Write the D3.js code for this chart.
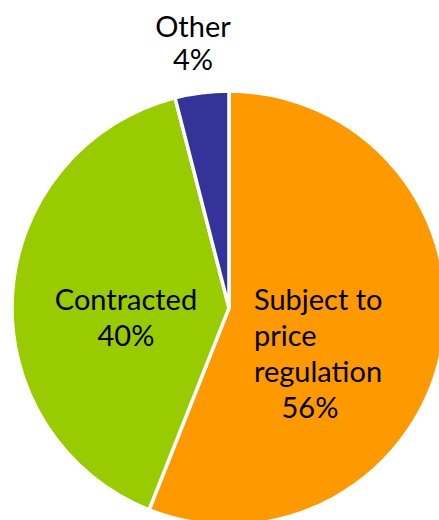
<!DOCTYPE html>
<html>
<head>
<meta charset="utf-8">
<script src="https://cdn.jsdelivr.net/npm/d3@7"></script>
<style>
  html, body { margin: 0; padding: 0; background: #fff; }
  svg { display: block; }
</style>
</head>
<body>
<svg id="chart" width="439" height="520"></svg>
<script>
// Share of output by pricing arrangement
const categories = ["Subject to price regulation", "Contracted", "Other"];
const shares = [56, 40, 4];
const colors = ["#FF9900", "#99CC00", "#333399"];
// Label lines for each slice (category text followed by its share)
const labelLines = [
  ["Subject to", "price", "regulation", "56%"],
  ["Contracted", "40%"],
  ["Other", "4%"]
];

const width = 439, height = 520;
const cx = 229, cy = 308, radius = 217;

const svg = d3.select("#chart");
const g = svg.append("g").attr("transform", `translate(${cx},${cy})`);

const pie = d3.pie().sort(null).value(d => d.value).startAngle(0).endAngle(2 * Math.PI);
const arc = d3.arc().innerRadius(0).outerRadius(radius);

const data = categories.map((c, i) => ({ name: c, value: shares[i], color: colors[i] }));
const arcs = pie(data);

g.selectAll("path.slice")
  .data(arcs)
  .join("path")
  .attr("class", "slice")
  .attr("d", arc)
  .attr("fill", d => d.data.color)
  .attr("stroke", "#fff")
  .attr("stroke-width", 3.5)
  .attr("stroke-linejoin", "miter");

const font = "Lato, 'Open Sans', sans-serif";
const fontSize = 29;
const lineH = 36;

function label(lines, x, y, anchor, xs) {
  const t = svg.append("text")
    .attr("font-family", font)
    .attr("font-size", fontSize)
    .attr("fill", "#000")
    .attr("text-anchor", anchor);
  lines.forEach((s, i) => {
    t.append("tspan")
      .attr("x", xs && xs[i] != null ? xs[i] : x)
      .attr("y", y + i * lineH)
      .attr("text-anchor", xs && xs[i] != null ? "middle" : anchor)
      .text(s);
  });
}

// Subject to price regulation: left-aligned block, share centred under it
label(labelLines[0], 254, 310, "start", [null, null, null, 310]);
// Contracted
label(labelLines[1], 126, 310, "middle");
// Other, placed above the pie
svg.append("text")
  .attr("font-family", font).attr("font-size", fontSize)
  .attr("text-anchor", "middle")
  .selectAll("tspan").data(labelLines[2]).join("tspan")
  .attr("x", 193).attr("y", (d, i) => 37 + i * 33).text(d => d);
</script>
</body>
</html>
